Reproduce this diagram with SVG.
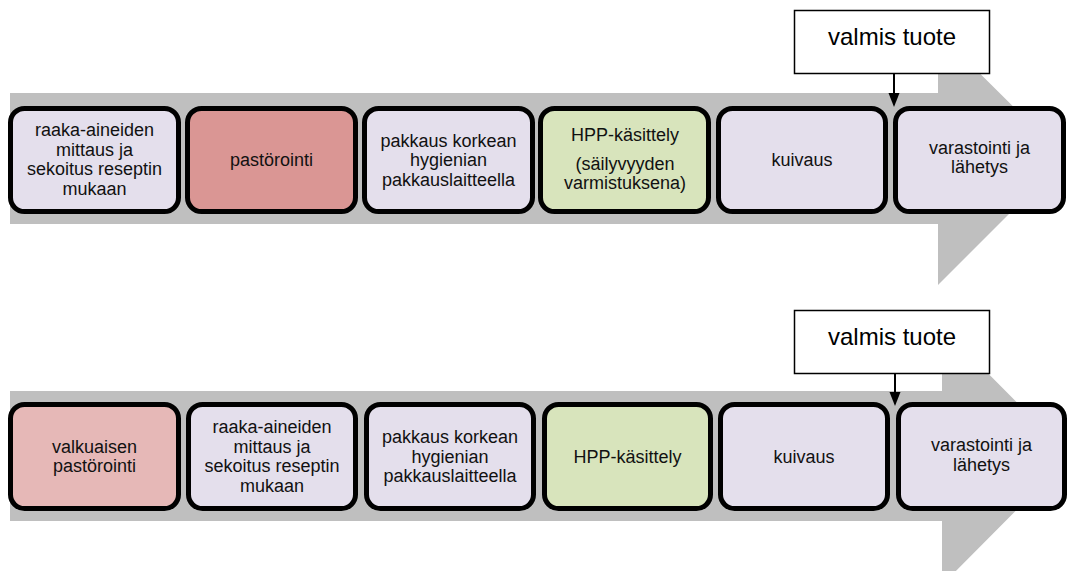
<svg xmlns="http://www.w3.org/2000/svg" width="1067" height="571" viewBox="0 0 1067 571">
<style>
.band{fill:#BFBFBF;stroke:none}
.node{stroke:#000;stroke-width:5}
.lav{fill:#E4DFEC}
.pink{fill:#DA9694}
.lpink{fill:#E6B8B7}
.green{fill:#D8E4BC}
.t{font-family:"Liberation Sans",Arial,sans-serif;font-size:18px;fill:#111;text-anchor:middle}
.big{font-family:"Liberation Sans",Arial,sans-serif;font-size:24px;fill:#000;text-anchor:middle}
.box{fill:#fff;stroke:#000;stroke-width:1.5}
.conn{stroke:#000;stroke-width:2;fill:none}
.head{fill:#000}
</style>
<rect width="1067" height="571" fill="#fff"/>
<g id="band-top"><polygon class="band" points="10,93 938,93 938,32 1065,158 938,285 938,224 10,224"/></g>
<g id="band-bottom"><polygon class="band" points="10,391 942,391 942,327 1070,456 942,585 942,521 10,521"/></g>

<g id="t1"><rect class="node lav" x="10.5" y="108.5" width="168" height="103" rx="14"/>
<text class="t" x="94.5" y="136">raaka-aineiden</text><text class="t" x="94.5" y="155.5">mittaus ja</text><text class="t" x="94.5" y="175">sekoitus reseptin</text><text class="t" x="94.5" y="194.5">mukaan</text></g>
<g id="t2"><rect class="node pink" x="187.5" y="108.5" width="168" height="103" rx="14"/>
<text class="t" x="271.5" y="166">pastörointi</text></g>
<g id="t3"><rect class="node lav" x="364.5" y="108.5" width="168" height="103" rx="14"/>
<text class="t" x="448.5" y="146.5">pakkaus korkean</text><text class="t" x="448.5" y="166">hygienian</text><text class="t" x="448.5" y="185.5">pakkauslaitteella</text></g>
<g id="t4"><rect class="node green" x="540.5" y="108.5" width="168" height="103" rx="14"/>
<text class="t" x="625" y="141">HPP-käsittely</text><text class="t" x="625" y="169.5">(säilyvyyden</text><text class="t" x="625" y="189">varmistuksena)</text></g>
<g id="t5"><rect class="node lav" x="718.5" y="108.5" width="167" height="103" rx="14"/>
<text class="t" x="802" y="165.5">kuivaus</text></g>
<g id="t6"><rect class="node lav" x="895.5" y="108.5" width="168" height="103" rx="14"/>
<text class="t" x="979.5" y="154">varastointi ja</text><text class="t" x="979.5" y="173">lähetys</text></g>
<g id="t7"><rect class="box" x="794.5" y="10.5" width="195" height="63"/>
<text class="big" x="892" y="44.5">valmis tuote</text></g>

<g id="b1"><rect class="node lpink" x="10.5" y="404.5" width="168" height="104" rx="14"/>
<text class="t" x="94.5" y="452.5">valkuaisen</text><text class="t" x="94.5" y="472">pastörointi</text></g>
<g id="b2"><rect class="node lav" x="188.5" y="404.5" width="167" height="104" rx="14"/>
<text class="t" x="272" y="432.5">raaka-aineiden</text><text class="t" x="272" y="452.5">mittaus ja</text><text class="t" x="272" y="472">sekoitus reseptin</text><text class="t" x="272" y="492">mukaan</text></g>
<g id="b3"><rect class="node lav" x="366.5" y="404.5" width="167" height="104" rx="14"/>
<text class="t" x="450" y="443">pakkaus korkean</text><text class="t" x="450" y="462.5">hygienian</text><text class="t" x="450" y="482">pakkauslaitteella</text></g>
<g id="b4"><rect class="node green" x="544.5" y="404.5" width="166" height="104" rx="14"/>
<text class="t" x="627.5" y="462.5">HPP-käsittely</text></g>
<g id="b5"><rect class="node lav" x="720.5" y="404.5" width="167" height="104" rx="14"/>
<text class="t" x="804" y="462.5">kuivaus</text></g>
<g id="b6"><rect class="node lav" x="898.5" y="404.5" width="166" height="104" rx="14"/>
<text class="t" x="981.5" y="451">varastointi ja</text><text class="t" x="981.5" y="471">lähetys</text></g>
<g id="b7"><rect class="box" x="794.5" y="310.5" width="195" height="63"/>
<text class="big" x="892" y="344.5">valmis tuote</text></g>

<g id="connectors">
<line class="conn" x1="894" y1="74" x2="894" y2="95"/>
<polygon class="head" points="888.5,93 899.5,93 894,107"/>
<line class="conn" x1="895" y1="374" x2="895" y2="394"/>
<polygon class="head" points="889.5,392 900.5,392 895,406"/>
</g>
</svg>
